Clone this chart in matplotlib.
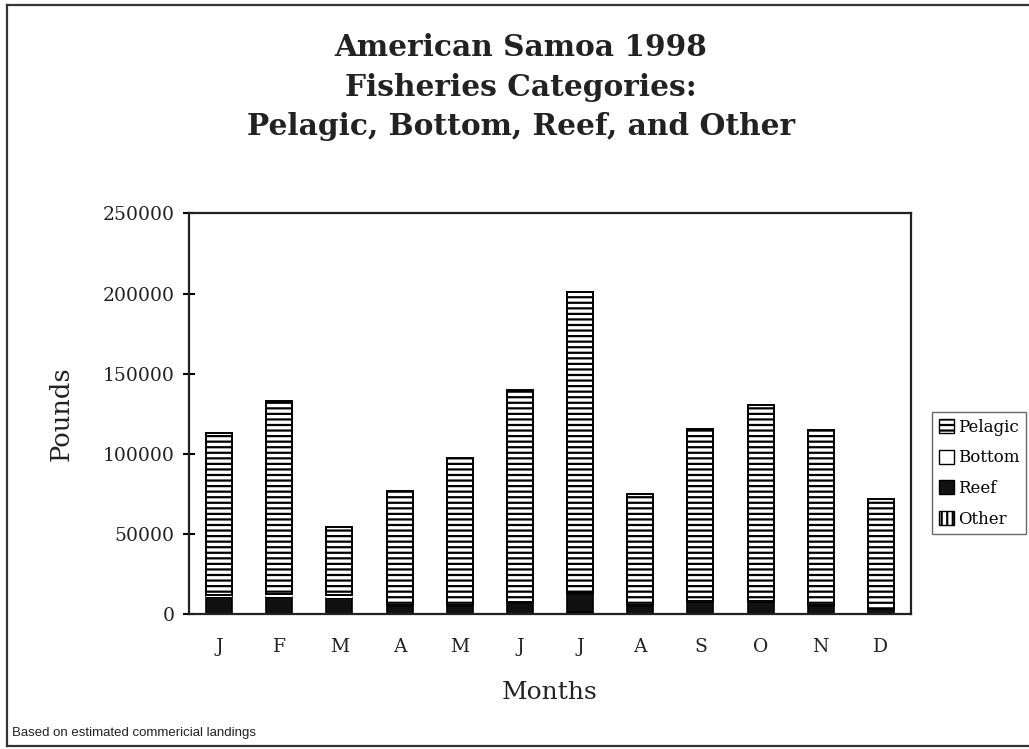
import matplotlib
matplotlib.use("Agg")
import matplotlib.pyplot as plt
from matplotlib.lines import Line2D
from matplotlib.patches import Patch

months = ['J', 'F', 'M', 'A', 'M', 'J', 'J', 'A', 'S', 'O', 'N', 'D']
other = [0, 0, 0, 0, 0, 0, 1500, 0, 0, 0, 0, 0]
reef = [10500, 11000, 10000, 5000, 5000, 7000, 11000, 5000, 7500, 7500, 5000, 3000]
bottom = [1500, 1500, 2000, 500, 500, 500, 500, 500, 500, 500, 500, 500]
pelagic = [101000, 120500, 42500, 71500, 92000, 132500, 188000, 69500, 107500, 122500, 109500, 68500]
yticks = [0, 50000, 100000, 150000, 200000, 250000]

plt.rcParams['hatch.linewidth'] = 1.6
plt.rcParams['font.family'] = ['DejaVu Serif']

fig = plt.figure(figsize=(10.29, 7.49), dpi=100)
ax = fig.add_axes([189/1029, 1-614.3/749, (911-189)/1029, (614.3-213.3)/749])

x = list(range(len(months)))
w = 0.43
b1 = other
b2 = [o + r for o, r in zip(other, reef)]
b3 = [v + bt for v, bt in zip(b2, bottom)]

ax.bar(x, other, w, color='white', edgecolor='black', hatch='|||', linewidth=1.2, label='Other')
ax.bar(x, reef, w, bottom=b1, color='#111111', edgecolor='black', linewidth=1.2, label='Reef')
ax.bar(x, bottom, w, bottom=b2, color='white', edgecolor='white', linewidth=0, label='Bottom')
ax.bar(x, pelagic, w, bottom=b3, color='white', edgecolor='black', hatch='---', linewidth=1.4, label='Pelagic')

ax.set_xlim(-0.5, len(months) - 0.5)
ax.set_ylim(0, 250000)
ax.set_yticks(yticks)
ax.set_yticklabels([str(v) for v in yticks], fontsize=13.5, color='#222222')
ax.set_xticks(x)
ax.set_xticklabels(months, fontsize=13.5, color='#222222')
ax.tick_params(axis='y', direction='inout', length=9, width=1.5, pad=6)
ax.tick_params(axis='x', length=0, pad=17)
for s in ax.spines.values():
    s.set_linewidth(1.6)
    s.set_color('#222222')

ax.set_ylabel('Pounds', fontsize=18.5, labelpad=21, color='#222222')
ax.set_xlabel('Months', fontsize=18, labelpad=18, color='#222222')

fig.text(521/1029, 1-87/749,
         'American Samoa 1998\nFisheries Categories:\nPelagic, Bottom, Reef, and Other',
         ha='center', va='center', fontsize=21.3, fontweight='bold',
         linespacing=1.46, color='#222222')

fig.text(12/1029, 1-733/749, 'Based on estimated commericial landings',
         fontsize=9.5, family=['Liberation Sans'], va='center', ha='left', color='#222222')

handles = [
    Patch(facecolor='white', edgecolor='black', hatch='---', label='Pelagic'),
    Patch(facecolor='white', edgecolor='black', label='Bottom'),
    Patch(facecolor='#111111', edgecolor='black', label='Reef'),
    Patch(facecolor='white', edgecolor='black', hatch='|||', label='Other'),
]
leg = fig.legend(handles=handles, loc='upper left', bbox_to_anchor=(932/1029, 1-412/749),
                 fontsize=12, frameon=True, fancybox=False, handlelength=0.9,
                 handleheight=0.9, handletextpad=0.25, labelspacing=0.82,
                 borderpad=0.4, borderaxespad=0)
leg.get_frame().set_edgecolor('#444444')
leg.get_frame().set_linewidth(1.0)

# outer border
fig.add_artist(Line2D([7/1029, 7/1029], [1-5/749, 1-746/749], transform=fig.transFigure, color='#333333', lw=1.6))
fig.add_artist(Line2D([7/1029, 1.0], [1-5/749, 1-5/749], transform=fig.transFigure, color='#333333', lw=1.6))
fig.add_artist(Line2D([7/1029, 1.0], [1-746/749, 1-746/749], transform=fig.transFigure, color='#333333', lw=1.6))

fig.savefig('out.png', dpi=100)
